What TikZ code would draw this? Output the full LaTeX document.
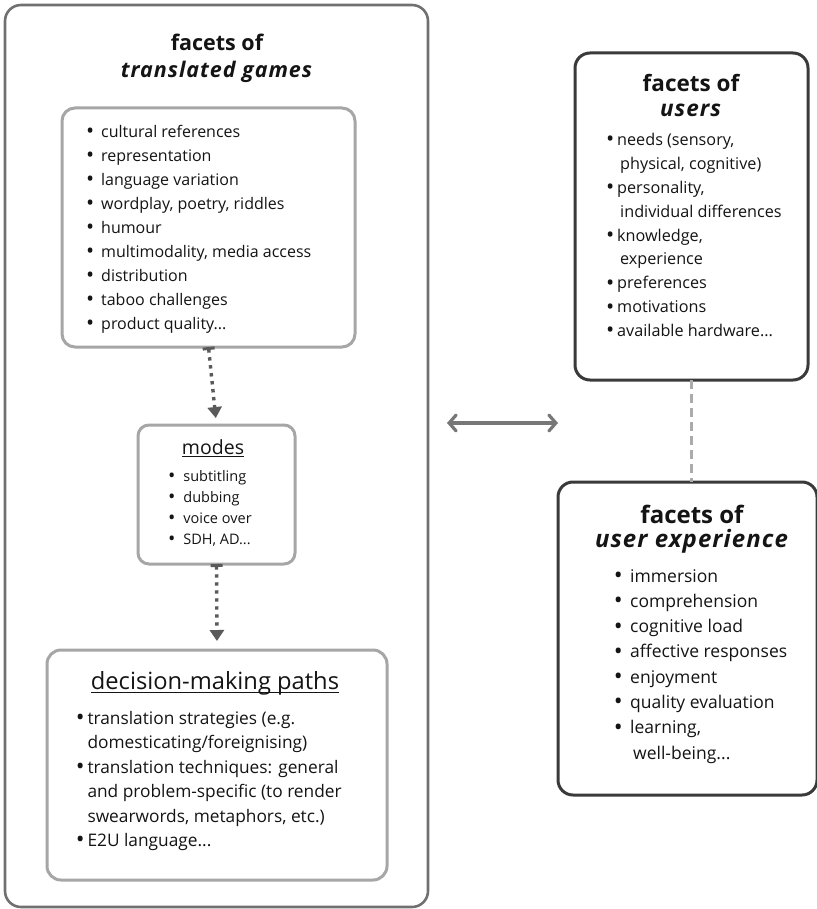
\documentclass[tikz,border=0pt]{standalone}
\usepackage{fontspec}
\setmainfont{Open Sans}
\usetikzlibrary{arrows.meta}
\definecolor{outerc}{HTML}{707070}
\definecolor{innerc}{HTML}{A6A6A6}
\definecolor{darkc}{HTML}{3A3A3A}
\definecolor{arrc}{HTML}{5A5A5A}
\definecolor{biarr}{HTML}{777777}
\definecolor{dashc}{HTML}{ABABAB}
\definecolor{txt}{HTML}{141414}
\newcommand{\bul}{\raisebox{-0.08em}{\scalebox{1.35}{\textbullet}}}
\newcommand{\bi}[1]{\makebox[#1][l]{\hspace{2.5pt}\makebox[0pt][c]{\bul}}}
\newcommand{\ulx}[1]{\setbox0\hbox{#1}\rlap{\rule[-3pt]{\wd0}{1pt}}\box0}
\newcommand{\wideit}[1]{\textit{\addfontfeature{LetterSpace=4.5}#1}}
\tikzset{
  boxbase/.style={rectangle, rounded corners=13pt, outer sep=0pt, inner sep=0pt, fill=white},
  outerbox/.style={boxbase, draw=outerc, line width=2.6pt, rounded corners=16pt},
  innerbox/.style={boxbase, draw=innerc, line width=3pt},
  darkbox/.style={boxbase, draw=darkc, line width=3pt, rounded corners=15pt},
  lst/.style={anchor=base west, inner sep=0pt, text=txt},
  ttl/.style={align=center, inner sep=0pt, text=txt},
  dotarrow/.style={draw=arrc, line width=3.4pt, dash pattern=on 3.4pt off 4.6pt,
     {Bar[width=12pt,line width=3pt]}-{Triangle[width=14pt,length=11pt]}},
}
\begin{document}
\begin{tikzpicture}[x=1pt,y=-1pt]
\useasboundingbox (0,0) rectangle (816,909);
% outer box
\node[outerbox, minimum width=423, minimum height=902] (outer) at (216.5,456) {};
\node[ttl, font=\fontsize{21.5}{27}\selectfont\bfseries] (otitle) at (217,58.5) {facets of\\\wideit{translated games}};
% box 1
\node[innerbox, minimum width=293, minimum height=239] (b1) at (208.5,227.5) {};
\node[lst, font=\fontsize{16}{24}\selectfont] (l1) at (87.5,137.5) {\begin{tabular}[t]{@{}l@{}}
\bi{13.5pt}cultural references\\
\bi{13.5pt}representation\\
\bi{13.5pt}language variation\\
\bi{13.5pt}wordplay, poetry, riddles\\
\bi{13.5pt}humour\\
\bi{13.5pt}multimodality, media access\\
\bi{13.5pt}distribution\\
\bi{13.5pt}taboo challenges\\
\bi{13.5pt}product quality...
\end{tabular}};
% modes
\node[innerbox, minimum width=157, minimum height=139, rounded corners=11pt] (modes) at (216.5,494.5) {};
\node[inner sep=0pt, anchor=base, text=txt, font=\fontsize{19.5}{22}\selectfont] (mtitle) at (213,454) {\ulx{modes}};
\node[lst, font=\fontsize{14.5}{21}\selectfont] (l2) at (169.2,481.5) {\begin{tabular}[t]{@{}l@{}}
\bi{14pt}subtitling\\
\bi{14pt}dubbing\\
\bi{14pt}voice over\\
\bi{14pt}SDH, AD...
\end{tabular}};
% decision box
\node[innerbox, minimum width=340, minimum height=230, rounded corners=14pt] (dec) at (217,765) {};
\node[inner sep=0pt, anchor=base, text=txt, font=\fontsize{23.7}{26}\selectfont] (dtitle) at (215,689.5) {\ulx{decision-making paths}};
\node[lst, font=\fontsize{17.3}{24.5}\selectfont] (l3) at (77.5,724) {\begin{tabular}[t]{@{}l@{}}
\bi{9.8pt}translation strategies (e.g.\\
\hspace*{9.8pt}domesticating/foreignising)\\
\bi{9.8pt}translation techniques: general\\
\hspace*{9.8pt}and problem-specific (to render\\
\hspace*{9.8pt}swearwords, metaphors, etc.)\\
\bi{9.8pt}E2U language...
\end{tabular}};
% users box
\node[darkbox, minimum width=233, minimum height=327] (users) at (691.5,216.5) {};
\node[ttl, font=\fontsize{22.5}{25}\selectfont\bfseries] (utitle) at (691,96) {facets of\\\wideit{users}};
\node[lst, font=\fontsize{16.2}{23.9}\selectfont] (l4) at (607.5,145.5) {\begin{tabular}[t]{@{}l@{}}
\bi{9.5pt}needs (sensory,\\
\hspace*{12.5pt}physical, cognitive)\\
\bi{9.5pt}personality,\\
\hspace*{12.5pt}individual differences\\
\bi{9.5pt}knowledge,\\
\hspace*{12.5pt}experience\\
\bi{9.5pt}preferences\\
\bi{9.5pt}motivations\\
\bi{9.5pt}available hardware...
\end{tabular}};
% user experience box
\node[darkbox, minimum width=259, minimum height=313] (ue) at (687.5,638.5) {};
\node[ttl, font=\fontsize{24}{23.5}\selectfont\bfseries] (uetitle) at (692,529) {facets of\\\wideit{user experience}};
\node[lst, font=\fontsize{17.5}{25.3}\selectfont] (l5) at (615.5,582) {\begin{tabular}[t]{@{}l@{}}
\bi{14.5pt}immersion\\
\bi{14.5pt}comprehension\\
\bi{14.5pt}cognitive load\\
\bi{14.5pt}affective responses\\
\bi{14.5pt}enjoyment\\
\bi{14.5pt}quality evaluation\\
\bi{14.5pt}learning,\\
\hspace*{17.5pt}well-being...
\end{tabular}};
% connectors
\draw[dotarrow, shorten >=7pt] (b1.south) -- (modes.north);
\draw[dotarrow, shorten >=9pt] (modes.south) -- (dec.north);
\draw[draw=dashc, line width=3.5pt, dash pattern=on 9pt off 5pt] (users.south) -- (ue.north -| users.south);
\coordinate (bl) at (447,423);
\coordinate (br) at (558,423);
\draw[draw=biarr, line width=3.2pt, {Straight Barb[length=7pt,width=16pt,line cap=round]}-{Straight Barb[length=7pt,width=16pt,line cap=round]}] (bl) -- (br);
\end{tikzpicture}
\end{document}
